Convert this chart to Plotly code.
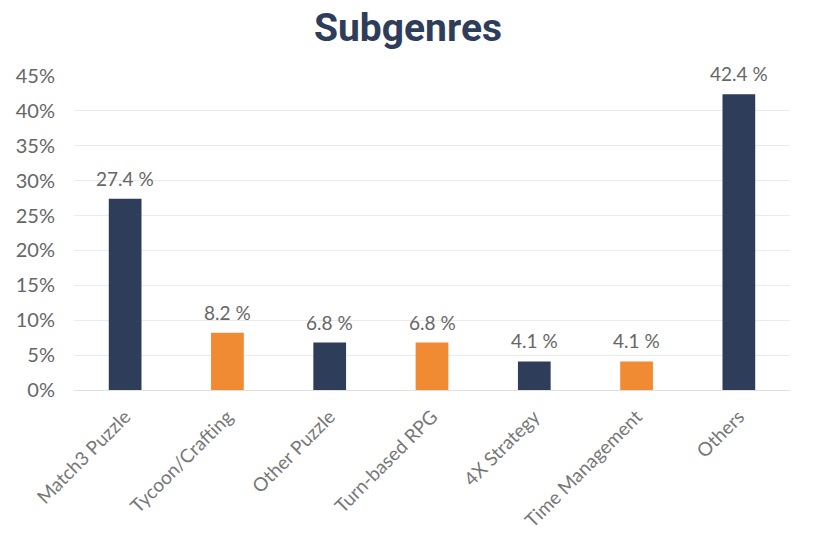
import plotly.graph_objects as go

categories = ["Match3 Puzzle", "Tycoon/Crafting", "Other Puzzle", "Turn-based RPG",
              "4X Strategy", "Time Management", "Others"]
values = [27.4, 8.2, 6.8, 6.8, 4.1, 4.1, 42.4]
bar_colors = ["#2E3D59", "#F08A33", "#2E3D59", "#F08A33", "#2E3D59", "#F08A33", "#2E3D59"]
y_ticks = [0, 5, 10, 15, 20, 25, 30, 35, 40, 45]
y_tick_labels = [f"{t}%" for t in y_ticks]

FONT = "Lato, Roboto, sans-serif"

fig = go.Figure()
fig.add_trace(go.Bar(
    x=categories, y=values, marker_color=bar_colors, width=0.32,
    marker_line_width=0, hoverinfo="skip",
))
for c, v in zip(categories, values):
    fig.add_annotation(x=c, y=v, text=f"{v} %", showarrow=False, yanchor="bottom",
                       yshift=7, font=dict(family=FONT, size=19, color="#666666"))

fig.update_layout(
    width=816, height=547,
    margin=dict(l=74, r=26, t=76, b=157),
    paper_bgcolor="white", plot_bgcolor="white",
    title=dict(text="<b>Subgenres</b>", x=0.5, xanchor="center", y=0.95, yanchor="middle",
               font=dict(family="Roboto, sans-serif", size=39, color="#2E3D59")),
    showlegend=False,
)
fig.update_yaxes(range=[0, 45], tickvals=y_ticks, ticktext=y_tick_labels,
                 showgrid=True, gridcolor="#EBEBEB", gridwidth=1,
                 zeroline=True, zerolinecolor="#E0E0E0", zerolinewidth=1,
                 showline=False, ticks="", ticklen=0, ticklabelstandoff=18,
                 tickfont=dict(family=FONT, size=20, color="#666666"))
fig.update_xaxes(tickangle=-45, showgrid=False, showline=False, ticks="",
                 ticklabelstandoff=11,
                 tickfont=dict(family=FONT, size=19, color="#777777"))

fig.write_html("out.html")
